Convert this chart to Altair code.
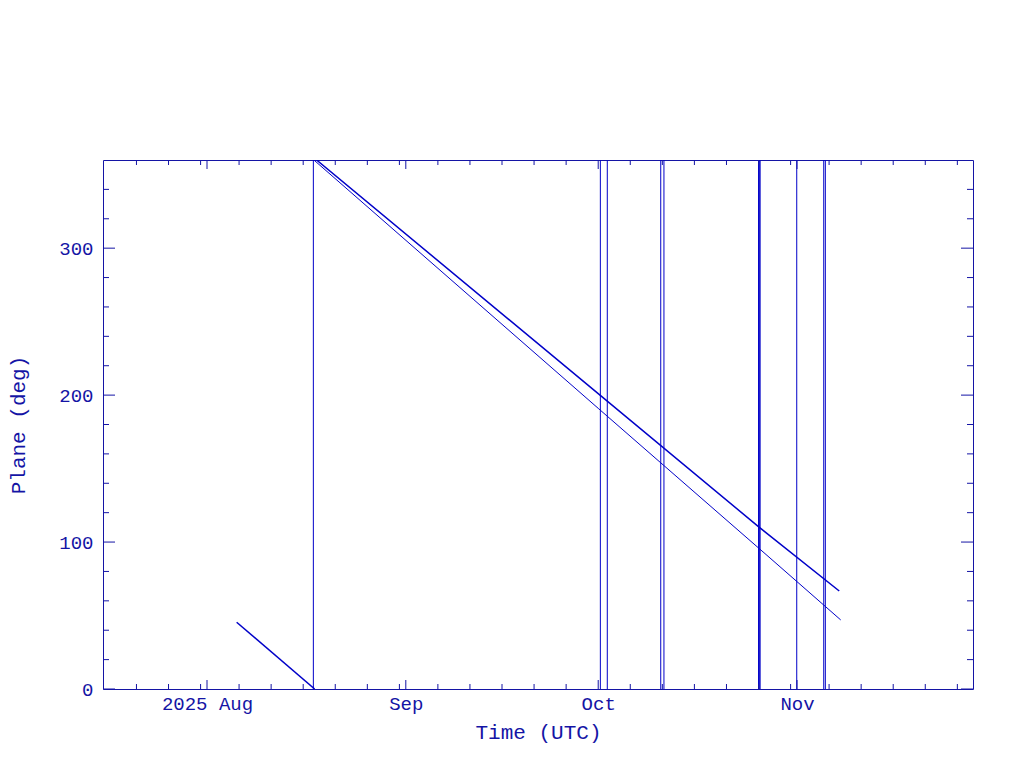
import altair as alt
import pandas as pd

AXIS_COLOR = "#1414a5"
LINE_COLOR = "#0000c8"
FONT = "Liberation Mono"

# ---- data (plane angle in degrees, UTC times) ----
seg1_times = ["2025-08-05T15:00:00Z", "2025-08-17T19:00:00Z"]
seg1_vals = [45.4, 0.0]

lower_times = ["2025-08-17T16:00:00Z", "2025-10-01T00:00:00Z",
               "2025-10-26T03:00:00Z", "2025-11-07T19:30:00Z"]
lower_vals = [360.0, 191.0, 95.5, 47.0]

upper_times = ["2025-08-18T02:00:00Z", "2025-10-01T00:00:00Z",
               "2025-10-26T03:00:00Z", "2025-11-07T14:00:00Z"]
upper_vals = [360.0, 201.0, 110.0, 66.7]

# full-height wrap / jump lines
glitch_times = ["2025-08-17T14:00:00Z", "2025-10-01T08:00:00Z", "2025-10-02T10:00:00Z",
                "2025-10-10T18:00:00Z", "2025-10-11T06:00:00Z",
                "2025-10-26T00:00:00Z", "2025-10-26T03:00:00Z", "2025-10-26T06:00:00Z",
                "2025-10-31T23:00:00Z", "2025-11-05T04:00:00Z", "2025-11-05T10:00:00Z"]
glitch_lo = [0.0] * len(glitch_times)
glitch_hi = [360.0] * len(glitch_times)

# axis ticks
major_x = ["2025-08-01T00:00:00Z", "2025-09-01T00:00:00Z",
           "2025-10-01T00:00:00Z", "2025-11-01T00:00:00Z"]
minor_days = {7: [21, 26, 31], 8: [6, 11, 16, 21, 26, 31], 9: [6, 11, 16, 21, 26],
              10: [6, 11, 16, 21, 26, 31], 11: [6, 11, 16, 21, 26]}
minor_x = [f"2025-{m:02d}-{d:02d}T00:00:00Z" for m, ds in minor_days.items() for d in ds]
major_y = [0, 100, 200, 300]
minor_y = [v for v in range(20, 360, 20) if v % 100 != 0]

W, H = 870, 529

lines_df = pd.DataFrame(
    {"t": seg1_times + lower_times + upper_times,
     "v": seg1_vals + lower_vals + upper_vals,
     "track": ["first"] * len(seg1_times) + ["lower"] * len(lower_times) + ["upper"] * len(upper_times)}
)
glitch_df = pd.DataFrame({"t": glitch_times, "v": glitch_lo, "v2": glitch_hi})
major_x_df = pd.DataFrame({"t": major_x})
minor_x_df = pd.DataFrame({"t": minor_x})
major_y_df = pd.DataFrame({"v": major_y})
minor_y_df = pd.DataFrame({"v": minor_y})

x_scale = alt.Scale(
    type="utc",
    domain=[alt.DateTime(year=2025, month=7, date=15, hours=18, minutes=48, utc=True),
            alt.DateTime(year=2025, month=11, date=28, hours=10, minutes=35, utc=True)],
)
y_scale = alt.Scale(domain=[0, 360], nice=False, zero=False)

x_axis = alt.Axis(
    values=[alt.DateTime(year=2025, month=m, date=1, utc=True) for m in (8, 9, 10, 11)],
    labelExpr="utcmonth(datum.value) == 7 ? '2025 Aug' : utcFormat(datum.value, '%b')",
    ticks=False, tickSize=0, domain=False, grid=False,
    labelPadding=5, labelFont=FONT, labelFontSize=19, labelColor=AXIS_COLOR,
    labelFlush=False, labelOverlap=False,
    titleFont=FONT, titleFontSize=21, titleColor=AXIS_COLOR, titleFontWeight="normal",
    titleY=43, titleBaseline="middle",
)
y_axis = alt.Axis(
    values=major_y,
    ticks=False, tickSize=0, domain=False, grid=False,
    labelPadding=10, labelFont=FONT, labelFontSize=19, labelColor=AXIS_COLOR,
    labelFlush=False, labelOverlap=False,
    titleFont=FONT, titleFontSize=21, titleColor=AXIS_COLOR, titleFontWeight="normal",
    titleX=-85, titleY=H / 2, titleAngle=270, titleAlign="center", titleBaseline="middle",
)


def X():
    return alt.X("t:T", scale=x_scale, axis=x_axis, title="Time (UTC)")


def Y():
    return alt.Y("v:Q", scale=y_scale, axis=y_axis, title="Plane (deg)")


base_lines = alt.Chart(lines_df)
thin = base_lines.transform_filter(alt.datum.track == "lower").mark_line(
    color=LINE_COLOR, strokeWidth=1, clip=True
).encode(x=X(), y=Y())
thick = base_lines.transform_filter(alt.datum.track != "lower").mark_line(
    color=LINE_COLOR, strokeWidth=1.5, clip=True
).encode(x=X(), y=Y(), detail="track:N")
glitches = alt.Chart(glitch_df).mark_rule(color=LINE_COLOR, strokeWidth=1).encode(
    x=X(), y=Y(), y2="v2:Q",
)


def xticks(df, length):
    bottom = alt.Chart(df).mark_rule(color=AXIS_COLOR, strokeWidth=1).encode(
        x=X(), y=alt.value(H), y2=alt.value(H - length))
    top = alt.Chart(df).mark_rule(color=AXIS_COLOR, strokeWidth=1).encode(
        x=X(), y=alt.value(0), y2=alt.value(length))
    return [bottom, top]


def yticks(df, length):
    left = alt.Chart(df).mark_rule(color=AXIS_COLOR, strokeWidth=1).encode(
        y=Y(), x=alt.value(0), x2=alt.value(length))
    right = alt.Chart(df).mark_rule(color=AXIS_COLOR, strokeWidth=1).encode(
        y=Y(), x=alt.value(W), x2=alt.value(W - length))
    return [left, right]


layers = [thin, thick, glitches] + xticks(major_x_df, 9) + xticks(minor_x_df, 5) \
    + yticks(major_y_df, 12) + yticks(minor_y_df, 6)

chart = alt.layer(*layers).properties(
    width=W, height=H,
    autosize=alt.AutoSizeParams(type="none"),
    padding={"left": 95, "top": 152, "right": 40, "bottom": 70},
    background="white",
).configure_view(stroke=AXIS_COLOR, strokeWidth=1)

chart.save("out.html", embed_options={"renderer": "svg", "actions": False})
